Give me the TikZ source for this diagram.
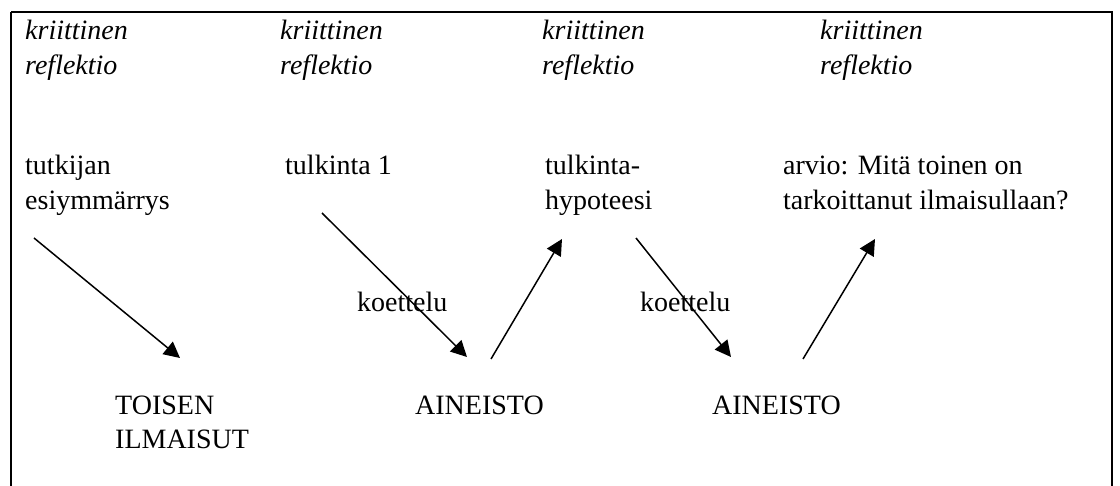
\documentclass[tikz,border=0pt]{standalone}
\usepackage{fontspec}
\setmainfont{Liberation Serif}
\usetikzlibrary{arrows.meta}
\begin{document}
\begin{tikzpicture}[x=1pt,y=-1pt,
  txt/.style={anchor=base west,inner sep=0pt,font=\fontsize{28}{35}\selectfont},
  itxt/.style={txt,font=\fontsize{28}{35}\selectfont\itshape},
  arr/.style={line width=1.5pt,-{Triangle[length=16pt,width=16pt]}},
  frame/.style={line width=2pt}]
\useasboundingbox (0,0) rectangle (1120,486);
\draw[frame] (11,12) -- (11,492) (11,12) -- (1112,12) -- (1112,492);
% critical reflection labels
\node[itxt] (k1) at (25,40) {\begin{tabular}[t]{@{}l@{}}kriittinen\\reflektio\end{tabular}};
\node[itxt] (k2) at (280,40) {\begin{tabular}[t]{@{}l@{}}kriittinen\\reflektio\end{tabular}};
\node[itxt] (k3) at (542,40) {\begin{tabular}[t]{@{}l@{}}kriittinen\\reflektio\end{tabular}};
\node[itxt] (k4) at (820,40) {\begin{tabular}[t]{@{}l@{}}kriittinen\\reflektio\end{tabular}};
% middle row
\node[txt] (esi) at (25,175) {\begin{tabular}[t]{@{}l@{}}tutkijan\\esiymmärrys\end{tabular}};
\node[txt] (tul) at (285,175) {tulkinta 1};
\node[txt] (hyp) at (545,175) {\begin{tabular}[t]{@{}l@{}}tulkinta-\\hypoteesi\end{tabular}};
\node[txt] (arv) at (783,175) {\begin{tabular}[t]{@{}l@{}}arvio: Mitä toinen on\\tarkoittanut ilmaisullaan?\end{tabular}};
% bottom row
\node[txt] (toi) at (115,414) {\begin{tabular}[t]{@{}l@{}}TOISEN\\ILMAISUT\end{tabular}};
\node[txt] (ai1) at (415,414) {AINEISTO};
\node[txt] (ai2) at (712,414) {AINEISTO};
% koettelu labels
\node[txt] (ko1) at (357,312) {koettelu};
\node[txt] (ko2) at (640,312) {koettelu};
% arrow end points
\coordinate (a1s) at (34,238);
\coordinate (a1e) at (180,358);
\coordinate (a2s) at (322,213);
\coordinate (a2e) at (467,357);
\coordinate (a3s) at (491,359);
\coordinate (a3e) at (562,239);
\coordinate (a4s) at (636,238);
\coordinate (a4e) at (731,357);
\coordinate (a5s) at (803,359);
\coordinate (a5e) at (875,239);
\draw[arr] (a1s) -- (a1e);
\draw[arr] (a2s) -- (a2e);
\draw[arr] (a3s) -- (a3e);
\draw[arr] (a4s) -- (a4e);
\draw[arr] (a5s) -- (a5e);
\end{tikzpicture}
\end{document}
